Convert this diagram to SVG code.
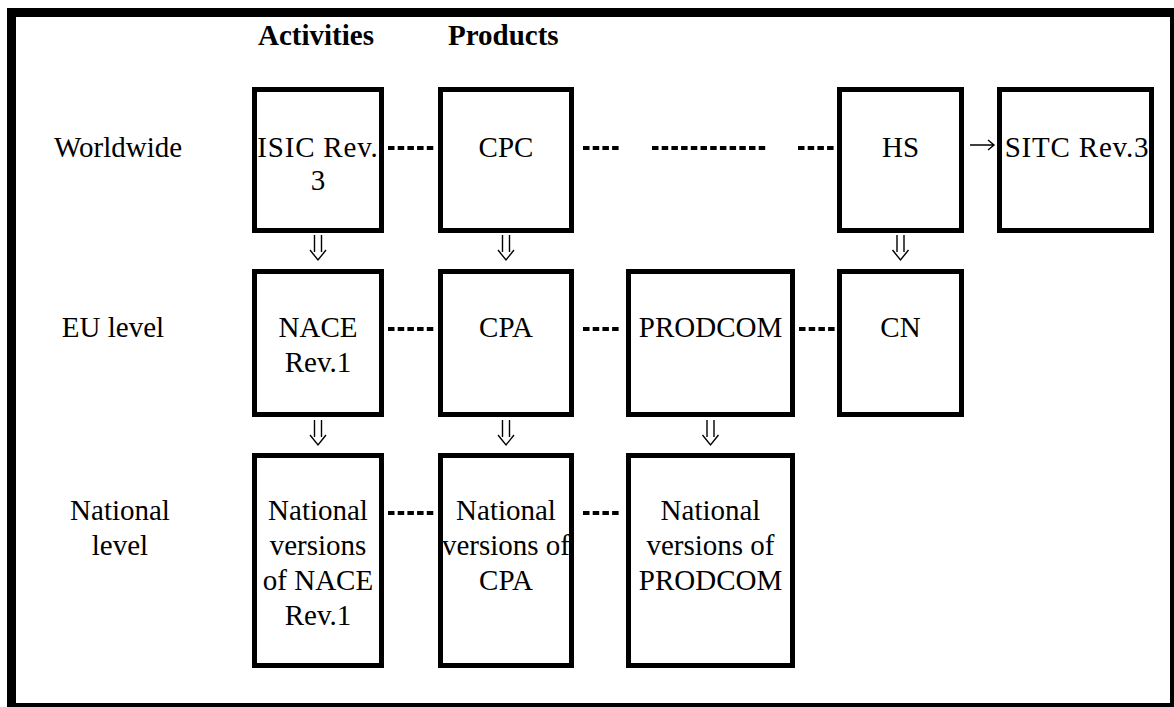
<svg xmlns="http://www.w3.org/2000/svg" width="1174" height="707" viewBox="0 0 1174 707">
<style>
text{font-family:"Liberation Serif","Times New Roman",serif;font-size:29px;fill:#000}
.h{font-weight:bold}
.c{text-anchor:middle}
.box{fill:#fff;stroke:#000;stroke-width:5}
.dash{stroke:#000;stroke-width:4;stroke-dasharray:6.5 3.2;fill:none}
.arr{stroke:#000;stroke-width:1.4;fill:none}
</style>
<rect x="0" y="0" width="1174" height="707" fill="#fff"/>
<rect x="11.5" y="12.5" width="1163" height="695" fill="none" stroke="#000" stroke-width="9"/>
<g id="headers">
<text class="h" x="258" y="45">Activities</text>
<text class="h" x="448" y="45">Products</text>
</g>
<g id="labels">
<text class="c" x="118" y="157">Worldwide</text>
<text class="c" x="113" y="337">EU level</text>
<text class="c" x="120" y="520">National</text>
<text class="c" x="120" y="555">level</text>
</g>
<g id="connectors">
<line class="dash" x1="388" y1="148" x2="434" y2="148"/>
<line class="dash" x1="583" y1="148" x2="620" y2="148"/>
<line class="dash" x1="652" y1="148" x2="768" y2="148"/>
<line class="dash" x1="798" y1="148" x2="836" y2="148"/>
<line class="dash" x1="388" y1="329" x2="434" y2="329"/>
<line class="dash" x1="583" y1="329" x2="620" y2="329"/>
<line class="dash" x1="799" y1="329" x2="836" y2="329"/>
<line class="dash" x1="388" y1="513" x2="434" y2="513"/>
<line class="dash" x1="583" y1="513" x2="620" y2="513"/>
<path class="arr" d="M970 145 H994 M988 140 L994 145 L988 150"/>
<path class="arr" d="M314.5 235 V252 M321.5 235 V252 M310 250 L318 260 L326 250"/>
<path class="arr" d="M502.5 235 V252 M509.5 235 V252 M498 250 L506 260 L514 250"/>
<path class="arr" d="M897 235 V252 M904 235 V252 M892.5 250 L900.5 260 L908.5 250"/>
<path class="arr" d="M314.5 420 V437 M321.5 420 V437 M310 435 L318 445 L326 435"/>
<path class="arr" d="M502.5 420 V437 M509.5 420 V437 M498 435 L506 445 L514 435"/>
<path class="arr" d="M707 420 V437 M714 420 V437 M702.5 435 L710.5 445 L718.5 435"/>
</g>
<g id="isic"><rect class="box" x="254.5" y="89.5" width="127" height="141"/><text class="c" x="318" y="157" letter-spacing="0.8">ISIC Rev.</text><text class="c" x="318" y="190">3</text></g>
<g id="cpc"><rect class="box" x="440.5" y="89.5" width="131" height="141"/><text class="c" x="506" y="157">CPC</text></g>
<g id="hs"><rect class="box" x="839.5" y="89.5" width="122" height="141"/><text class="c" x="900.5" y="157">HS</text></g>
<g id="sitc"><rect class="box" x="999.5" y="89.5" width="152" height="141"/><text class="c" x="1077" y="157" letter-spacing="0.8">SITC Rev.3</text></g>
<g id="nace"><rect class="box" x="254.5" y="271.5" width="127" height="143"/><text class="c" x="318" y="337">NACE</text><text class="c" x="318" y="372">Rev.1</text></g>
<g id="cpa"><rect class="box" x="440.5" y="271.5" width="131" height="143"/><text class="c" x="506" y="337">CPA</text></g>
<g id="prodcom"><rect class="box" x="628.5" y="271.5" width="164" height="143"/><text class="c" x="710.5" y="337">PRODCOM</text></g>
<g id="cn"><rect class="box" x="839.5" y="271.5" width="122" height="143"/><text class="c" x="900.5" y="337">CN</text></g>
<g id="nat-nace"><rect class="box" x="254.5" y="455.5" width="127" height="210"/><text class="c" x="318" y="520">National</text><text class="c" x="318" y="555">versions</text><text class="c" x="318" y="590">of NACE</text><text class="c" x="318" y="625">Rev.1</text></g>
<g id="nat-cpa"><rect class="box" x="440.5" y="455.5" width="131" height="210"/><text class="c" x="506" y="520">National</text><text class="c" x="506" y="555">versions of</text><text class="c" x="506" y="590">CPA</text></g>
<g id="nat-prodcom"><rect class="box" x="628.5" y="455.5" width="164" height="210"/><text class="c" x="710.5" y="520">National</text><text class="c" x="710.5" y="555">versions of</text><text class="c" x="710.5" y="590">PRODCOM</text></g>
</svg>
